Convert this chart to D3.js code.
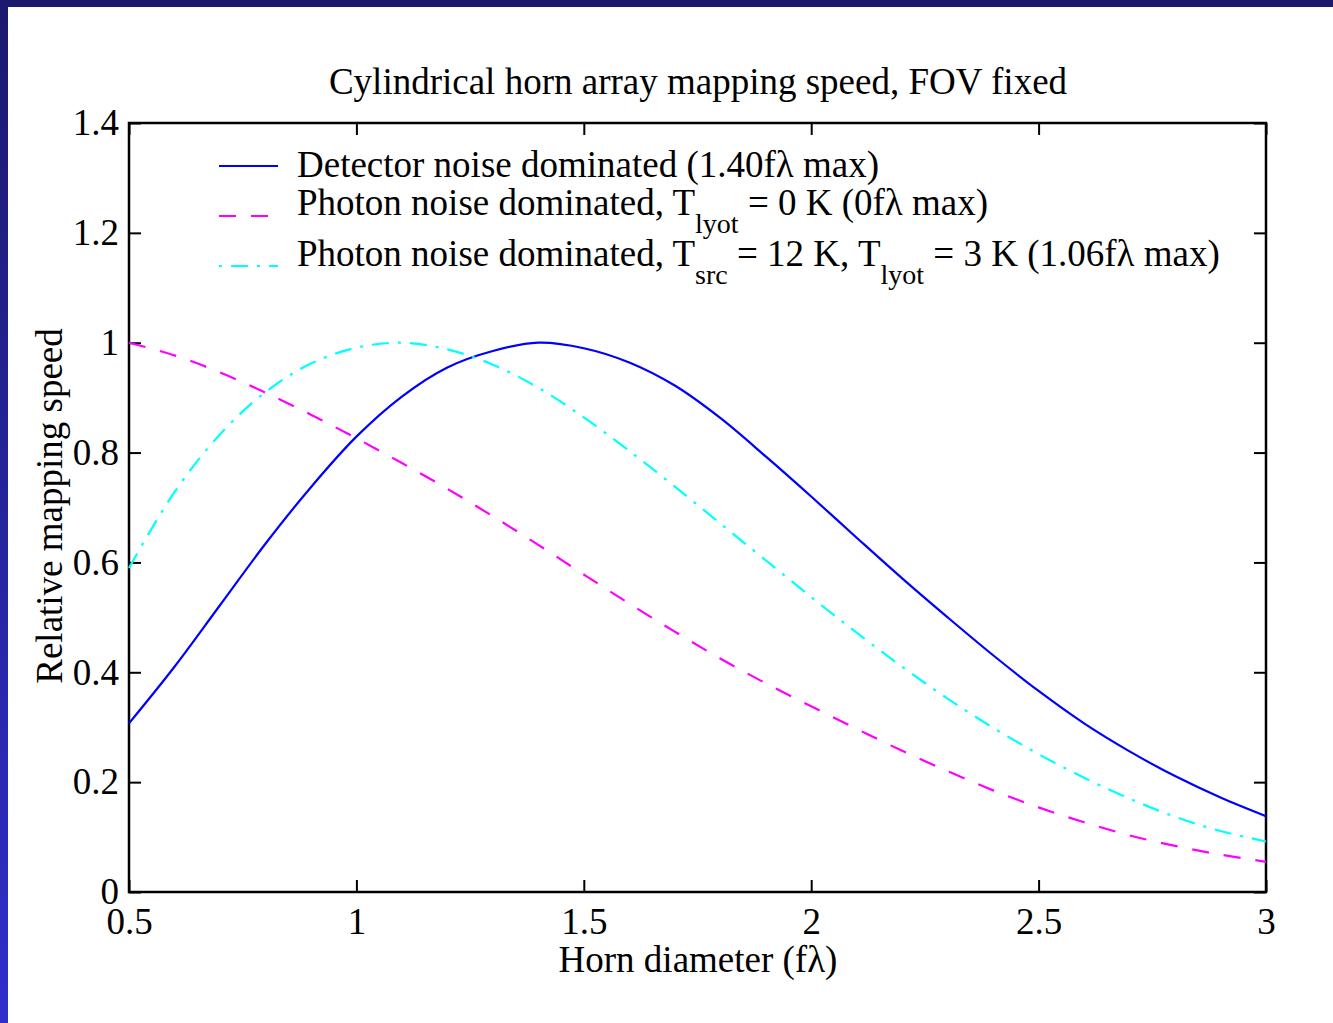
<!DOCTYPE html>
<html>
<head>
<meta charset="utf-8">
<script src="https://cdn.jsdelivr.net/npm/d3@7"></script>
<style>
  html, body { margin:0; padding:0; background:#fff; }
  svg text { font-family:"Liberation Serif", "Times New Roman", serif; fill:#000; }
</style>
</head>
<body>
<script>
/* data */
const diameters = [0.5,0.6,0.7,0.8,0.9,1.0,1.1,1.2,1.3,1.4,1.5,1.6,1.7,1.8,1.9,2.0,2.1,2.2,2.3,2.4,2.5,2.6,2.7,2.8,2.9,3.0];
const detectorNoise = [0.307,0.41,0.522,0.634,0.737,0.829,0.902,0.955,0.985,1.0,0.99,0.964,0.922,0.863,0.793,0.72,0.645,0.571,0.5,0.431,0.366,0.307,0.256,0.211,0.172,0.138];
const photonLyot0 = [1.0,0.977,0.946,0.909,0.869,0.826,0.781,0.734,0.684,0.632,0.578,0.525,0.474,0.425,0.38,0.338,0.297,0.257,0.22,0.185,0.154,0.127,0.103,0.084,0.068,0.055];
const photonSrc12 = [0.59,0.728,0.833,0.91,0.962,0.991,1.0,0.988,0.96,0.918,0.864,0.803,0.738,0.671,0.604,0.537,0.472,0.41,0.352,0.299,0.251,0.208,0.17,0.137,0.111,0.092];
const xTicks = [0.5,1,1.5,2,2.5,3];
const yTicks = [0,0.2,0.4,0.6,0.8,1,1.2,1.4];

const W = 1333, H = 1023;
const margin = {top:123, right:67, bottom:131, left:129};
const fs = 37;

let svg = d3.select("body").append("svg")
	.attr("width", W)
	.attr("height", H);

/* frame of the slide */
let grad = svg.append("defs").append("linearGradient")
	.attr("id","sideGrad").attr("x1",0).attr("y1",0).attr("x2",0).attr("y2",1);
grad.append("stop").attr("offset","0%").attr("stop-color","#1b1a6e");
grad.append("stop").attr("offset","100%").attr("stop-color","#2f2fcb");
svg.append("rect").attr("x",0).attr("y",0).attr("width",W).attr("height",7).attr("fill","#1b1a6e");
svg.append("rect").attr("x",0).attr("y",0).attr("width",8).attr("height",H).attr("fill","url(#sideGrad)");

const x = d3.scaleLinear().domain([0.5,3]).range([margin.left, W-margin.right]);
const y = d3.scaleLinear().domain([0,1.4]).range([H-margin.bottom, margin.top]);

/* axes, ticks inward on all sides */
const fmt = d => d3.format("")(d);
let gx = svg.append("g").attr("transform","translate(0,"+(H-margin.bottom)+")")
	.call(d3.axisBottom(x).tickValues(xTicks).tickSizeInner(-12).tickSizeOuter(0).tickPadding(16).tickFormat(fmt));
let gxt = svg.append("g").attr("transform","translate(0,"+margin.top+")")
	.call(d3.axisTop(x).tickValues(xTicks).tickSizeInner(-12).tickSizeOuter(0).tickFormat(""));
let gy = svg.append("g").attr("transform","translate("+margin.left+",0)")
	.call(d3.axisLeft(y).tickValues(yTicks).tickSizeInner(-12).tickSizeOuter(0).tickPadding(10).tickFormat(fmt));
let gyr = svg.append("g").attr("transform","translate("+(W-margin.right)+",0)")
	.call(d3.axisRight(y).tickValues(yTicks).tickSizeInner(-12).tickSizeOuter(0).tickFormat(""));

[gx,gxt,gy,gyr].forEach(g => {
	g.selectAll("path").remove();
	g.selectAll("line").attr("stroke","#000").attr("stroke-width",2);
	g.selectAll("text").attr("font-size",fs).attr("font-family","Liberation Serif").attr("fill","#000");
});
gx.selectAll("text").attr("dy","0.71em");
gy.selectAll("text").attr("dy","0.32em");

svg.append("rect")
	.attr("x",margin.left).attr("y",margin.top)
	.attr("width",W-margin.left-margin.right).attr("height",H-margin.top-margin.bottom)
	.attr("fill","none").attr("stroke","#000").attr("stroke-width",2.5);

/* curves */
const series = [
	{vals:detectorNoise, color:"#0000ff", dash:null},
	{vals:photonLyot0, color:"#ff00ff", dash:"17,15"},
	{vals:photonSrc12, color:"#00ffff", dash:"17,9,3,9"}
];
const line = d3.line().x(d => x(d[0])).y(d => y(d[1])).curve(d3.curveCatmullRom.alpha(0.5));
series.forEach(s => {
	svg.append("path")
		.datum(diameters.map((d,i) => [d, s.vals[i]]))
		.attr("d", line)
		.attr("fill","none")
		.attr("stroke", s.color)
		.attr("stroke-width",2.2)
		.attr("stroke-dasharray", s.dash);
});

/* legend */
const legY = [166, 216, 266];
const legDash = [null, "17,15", "3,9,17,9"];
series.forEach((s,i) => {
	svg.append("line")
		.attr("x1",219).attr("x2",278).attr("y1",legY[i]).attr("y2",legY[i])
		.attr("stroke",s.color).attr("stroke-width",2.2).attr("stroke-dasharray",legDash[i]);
});
const subFont = 28;
let t1 = svg.append("text").attr("x",297).attr("y",177).attr("font-size",fs)
	.text("Detector noise dominated (1.40f\u03bb max)");

let t2 = svg.append("text").attr("x",297).attr("y",215).attr("font-size",fs);
t2.append("tspan").text("Photon noise dominated, T");
t2.append("tspan").attr("font-size",subFont).attr("dy",18).text("lyot");
t2.append("tspan").attr("dy",-18).text(" = 0 K (0f\u03bb max)");

let t3 = svg.append("text").attr("x",297).attr("y",266).attr("font-size",fs);
t3.append("tspan").text("Photon noise dominated, T");
t3.append("tspan").attr("font-size",subFont).attr("dy",18).text("src");
t3.append("tspan").attr("dy",-18).text(" = 12 K, T");
t3.append("tspan").attr("font-size",subFont).attr("dy",18).text("lyot");
t3.append("tspan").attr("dy",-18).text(" = 3 K (1.06f\u03bb max)");

/* titles */
svg.append("text").attr("x",698).attr("y",94).attr("text-anchor","middle").attr("font-size",fs)
	.text("Cylindrical horn array mapping speed, FOV fixed");
svg.append("text").attr("x",698).attr("y",972).attr("text-anchor","middle").attr("font-size",fs)
	.text("Horn diameter (f\u03bb)");
svg.append("text").attr("transform","translate(62,506) rotate(-90)").attr("text-anchor","middle").attr("font-size",fs)
	.text("Relative mapping speed");
</script>
</body>
</html>
